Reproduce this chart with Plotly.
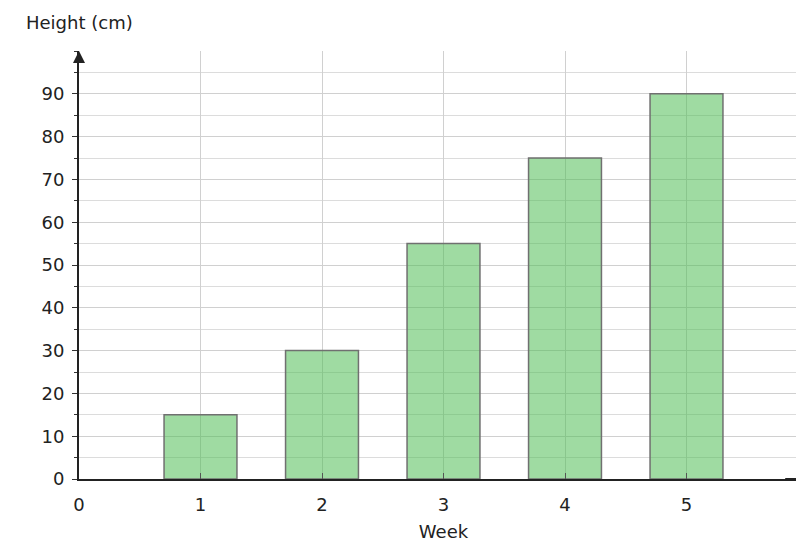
import plotly.graph_objects as go

weeks = [1, 2, 3, 4, 5]
heights = [15, 30, 55, 75, 90]
x_ticks = [0, 1, 2, 3, 4, 5]
y_ticks = [0, 10, 20, 30, 40, 50, 60, 70, 80, 90]

fig = go.Figure(go.Bar(
    x=weeks, y=heights, width=0.6,
    marker=dict(color="rgba(80,190,85,0.55)", line=dict(color="#707070", width=1.5)),
))

font = dict(family="DejaVu Sans", size=18, color="#222")
fig.update_layout(
    width=804, height=548, plot_bgcolor="white", paper_bgcolor="white",
    margin=dict(l=71, r=4, t=43, b=77, autoexpand=False), font=font, showlegend=False,
    xaxis=dict(range=[0, 6], tickvals=x_ticks, showgrid=True, gridcolor="#d0d0d0", automargin=False,
               zeroline=False, showline=True, linecolor="#222", linewidth=2,
               ticks="inside", ticklen=6, tickcolor="#555", ticklabelstandoff=8,
               title=dict(text="Week", font=font, standoff=12)),
    yaxis=dict(range=[0, 100], tickvals=y_ticks, showgrid=True, gridcolor="#d0d0d0", automargin=False,
               zeroline=False, showline=True, linecolor="#222", linewidth=2,
               ticks="outside", ticklen=5, tickcolor="#333", ticklabelstandoff=4,
               minor=dict(dtick=5, showgrid=True, gridcolor="#dcdcdc", ticks="outside", ticklen=3, tickcolor="#333")),
    annotations=[
        dict(x=6, y=0, ax=5.8, ay=0, xref="x", yref="y", axref="x", ayref="y",
             showarrow=True, arrowhead=2, arrowsize=1.2, arrowwidth=2, arrowcolor="#222", text=""),
        dict(x=0, y=100, ax=0, ay=97, xref="x", yref="y", axref="x", ayref="y",
             showarrow=True, arrowhead=2, arrowsize=1.2, arrowwidth=2, arrowcolor="#222", text=""),
        dict(x=4, y=524, xref="paper", yref="paper", text="", showarrow=False),
    ],
)
fig.add_annotation(x=0, y=1, xref="paper", yref="paper", xanchor="center", yanchor="bottom",
                   yshift=16, text="Height (cm)", showarrow=False, font=font)
fig.layout.annotations = fig.layout.annotations[:2] + fig.layout.annotations[3:]
fig.write_html("out.html")
